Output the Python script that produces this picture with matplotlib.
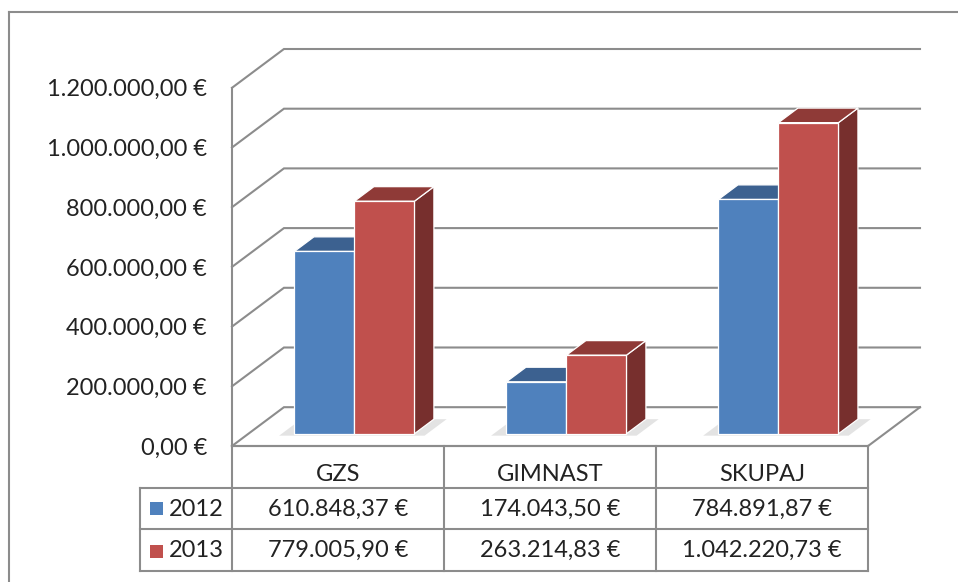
import matplotlib
matplotlib.use("Agg")
import matplotlib.pyplot as plt
from matplotlib.patches import Polygon, Rectangle
from matplotlib.lines import Line2D

plt.rcParams['font.family'] = ['Lato', 'DejaVu Sans']

# podatki
categories = ['GZS', 'GIMNAST', 'SKUPAJ']
years = ['2012', '2013']
values_2012 = [610848.37, 174043.50, 784891.87]
values_2013 = [779005.90, 263214.83, 1042220.73]
yticks = [0, 200000, 400000, 600000, 800000, 1000000, 1200000]

series = [values_2012, values_2013]
front_cols = ['#4F81BD', '#C0504D']
top_cols = ['#3C6190', '#8F3A37']
side_cols = ['#2F4C72', '#772F2D']
grid_col = '#8c8c8c'
txt_col = '#222222'
FS = 17


def eur(v):
    s = f"{v:,.2f}".replace(',', 'X').replace('.', ',').replace('X', '.')
    return s + " €"


W, H = 958, 582
fig = plt.figure(figsize=(W / 100, H / 100), dpi=100)


def fax(x0, y0, x1, y1):
    return [x0 / W, 1 - y1 / H, (x1 - x0) / W, (y1 - y0) / H]


# globina 3D (posevna projekcija)
DX = 0.245
DY = 130000
YMAX = 1200000
D0, D1 = 0.316, 0.691
BW = 0.283


def P(x, y, d):
    return (x + d * DX, y + d * DY)


ax = fig.add_axes(fax(232, 49, 920, 446))
ax.set_xlim(0, 3 + DX)
ax.set_ylim(0, YMAX + DY)
for s in ax.spines.values():
    s.set_visible(False)
ax.set_xticks([])
ax.set_yticks(yticks)
ax.set_yticklabels([eur(v) for v in yticks], fontsize=FS, color=txt_col)
ax.tick_params(axis='y', length=0, pad=18)

# mreža in stene
for v in yticks:
    ax.plot([0, DX, 3 + DX], [v, v + DY, v + DY], color=grid_col, lw=1.5,
            clip_on=False, zorder=1, solid_joinstyle='miter')
ax.plot([0, 0], [0, YMAX], color=grid_col, lw=1.5, clip_on=False, zorder=1)
ax.plot([3, 3 + DX], [0, DY], color=grid_col, lw=1.5, clip_on=False, zorder=1)
ax.plot([0, 3], [0, 0], color=grid_col, lw=1.5, clip_on=False, zorder=1)

# senca pod stolpci
for i in range(len(categories)):
    c = i + 0.5
    x0, x1 = c - BW - 0.06, c + BW + 0.06
    shadow = [P(x0, 0, D0 - 0.05), P(x1, 0, D0 - 0.05), P(x1, 0, D1), P(x0, 0, D1)]
    ax.add_patch(Polygon(shadow, closed=True, facecolor='#b0b0b0', alpha=0.35,
                         edgecolor='none', zorder=2))

# stolpci
z = 3
for i in range(len(categories)):
    c = i + 0.5
    for j, vals in enumerate(series):
        v = vals[i]
        x0 = c - BW + j * BW
        x1 = x0 + BW
        front = [P(x0, 0, D0), P(x1, 0, D0), P(x1, v, D0), P(x0, v, D0)]
        top = [P(x0, v, D0), P(x1, v, D0), P(x1, v, D1), P(x0, v, D1)]
        side = [P(x1, 0, D0), P(x1, 0, D1), P(x1, v, D1), P(x1, v, D0)]
        for poly, col in ((side, side_cols[j]), (top, top_cols[j]), (front, front_cols[j])):
            ax.add_patch(Polygon(poly, closed=True, facecolor=col, edgecolor='white',
                                 lw=0.9, zorder=z, joinstyle='miter'))
        z += 1

# tabela s podatki
LEG = 92 / 212
tax = fig.add_axes(fax(140, 446, 868, 571))
tax.set_xlim(-LEG, 3)
tax.set_ylim(3, 0)
tax.axis('off')

lk = dict(color=grid_col, lw=1.5, clip_on=False)
tax.plot([0, 3], [0, 0], **lk)
for r in (1, 2, 3):
    tax.plot([-LEG, 3], [r, r], **lk)
tax.plot([-LEG, -LEG], [1, 3], **lk)
for k in range(len(categories) + 1):
    tax.plot([k, k], [0, 3], **lk)

for i, cat in enumerate(categories):
    tax.text(i + 0.5, 0.85, cat, ha='center', va='baseline', fontsize=FS, color=txt_col)
    for j, vals in enumerate(series):
        tax.text(i + 0.5, 1.68 - j * 0.02 + j, eur(vals[i]), ha='center', va='baseline',
                 fontsize=FS, color=txt_col)

for j, yr in enumerate(years):
    tax.add_patch(Rectangle((-0.387, 1.344 + j * 1.032), 0.061, 0.312,
                            facecolor=front_cols[j], edgecolor='none', clip_on=False))
    tax.text(-0.038, 1.68 - j * 0.02 + j, yr, ha='right', va='baseline',
             fontsize=FS, color=txt_col)

# okvir grafikona
fig.add_artist(Line2D([9 / W, 9 / W], [0, 1 - 12 / H], color=grid_col, lw=1.5,
                      transform=fig.transFigure))
fig.add_artist(Line2D([9 / W, 1], [1 - 12 / H, 1 - 12 / H], color=grid_col, lw=1.5,
                      transform=fig.transFigure))

fig.savefig('out.png', dpi=100)
